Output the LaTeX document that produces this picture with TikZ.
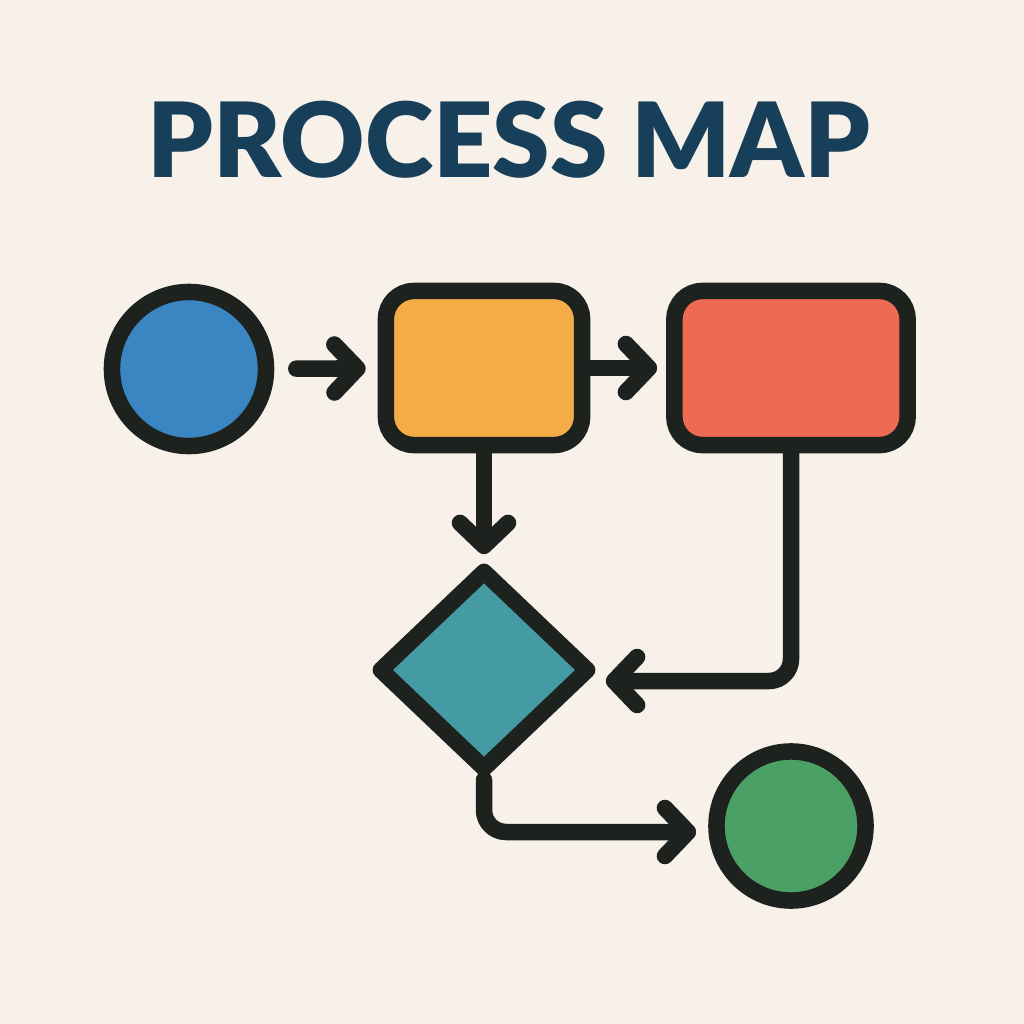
\documentclass[tikz,border=0pt]{standalone}
\usepackage{fontspec}
\newfontfamily\titlefont{Lato Black}
\usetikzlibrary{positioning,shapes.geometric,arrows.meta,calc}
\definecolor{paper}{HTML}{F8F1EA}
\definecolor{ink}{HTML}{1E221F}
\definecolor{titleblue}{HTML}{173F5A}
\definecolor{startblue}{HTML}{3A86C3}
\definecolor{taskorange}{HTML}{F5AE45}
\definecolor{taskred}{HTML}{EE6A52}
\definecolor{decisionteal}{HTML}{459BA3}
\definecolor{endgreen}{HTML}{4BA066}
\begin{document}
\begin{tikzpicture}[x=0.01cm,y=-0.01cm,
		outline/.style={draw=ink,line width=0.165cm,line join=round,inner sep=0pt},
		flow/.style={draw=ink,line width=0.165cm,line cap=round,line join=round,
			-{Straight Barb[length=0.23cm,width=0.48cm,round]}},
	]
		%Paper
		\fill[paper] (0,0) rectangle (1024,1024);
		\useasboundingbox (0,0) rectangle (1024,1024);
		%Title
		\node[text=titleblue,font=\titlefont\fontsize{29.5}{34}\selectfont,inner sep=0pt] (title) at (509,140) {PROCESS MAP};
		%Start and end circles
		\node[outline,circle,fill=startblue,minimum size=1.54cm] (start) at (189,369) {};
		\node[outline,circle,fill=endgreen,minimum size=1.49cm] (finish) at (791,826) {};
		%Task boxes
		\node[outline,rounded corners=0.28cm,fill=taskorange,minimum width=1.96cm,minimum height=1.54cm] (taskA) at (484,368) {};
		\node[outline,rounded corners=0.28cm,fill=taskred,minimum width=2.33cm,minimum height=1.54cm] (taskB) at (791,368) {};
		%Decision
		\node[outline,diamond,fill=decisionteal,minimum width=2.13cm,minimum height=2.03cm] (check) at (484,670) {};
		%Connectors
		\draw[flow,shorten <=0.22cm,shorten >=0.12cm] (start) -- (taskA);
		\draw[flow,shorten >=0.09cm] (taskA) -- (taskB);
		\draw[flow,shorten >=0.06cm] (taskA) -- (check);
		\draw[flow,rounded corners=0.22cm,shorten >=0.07cm] (taskB.south) |- ([yshift=-0.11cm]check.east);
		\draw[flow,rounded corners=0.22cm,shorten >=0.12cm] (check.south) |- ([yshift=-0.06cm]finish.west);
	\end{tikzpicture}
\end{document}
